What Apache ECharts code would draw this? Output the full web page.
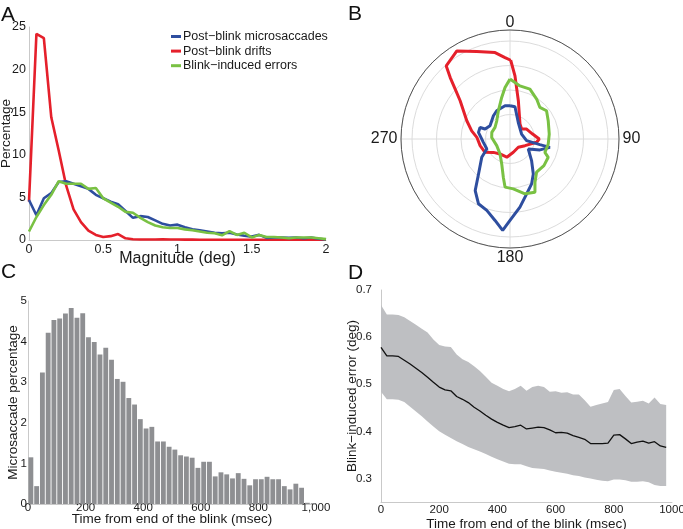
<!DOCTYPE html>
<html><head><meta charset="utf-8">
<script src="https://cdn.jsdelivr.net/npm/echarts@6/dist/echarts.min.js"></script>
<style>html,body{margin:0;padding:0;background:#fff}#c{width:683px;height:529px}</style>
</head><body><div id="c"></div>
<script>
// ---- Panel A: magnitude distributions ----
const magnitude = [0,0.05,0.1,0.15,0.2,0.25,0.3,0.35,0.4,0.45,0.5,0.55,0.6,0.65,0.7,0.75,0.8,0.85,0.9,0.95,1,1.05,1.1,1.15,1.2,1.25,1.3,1.35,1.4,1.45,1.5,1.55,1.6,1.65,1.7,1.75,1.8,1.85,1.9,1.95,2];
const microsaccades = [4.7,2.9,4.9,5.5,6.8,6.9,6.6,6.3,6.0,5.3,4.9,4.5,4.2,3.4,2.6,2.8,2.7,2.3,1.9,1.7,1.8,1.5,1.25,1.15,1.0,0.85,0.8,0.85,0.65,0.5,0.4,0.6,0.25,0.3,0.3,0.25,0.3,0.2,0.3,0.15,0.05];
const drifts = [4.5,24.2,23.7,14.4,10.5,6.4,3.6,2.1,1.1,0.6,0.35,0.45,0.7,0.2,0.08,0.06,0.05,0.05,0.08,0.05,0.05,0.04,0.04,0.03,0.03,0.03,0.03,0.03,0.03,0.03,0.03,0.03,0.03,0.03,0.03,0.03,0.03,0.03,0.03,0.03,0.03];
const blinkErrors = [1.0,2.7,4.1,5.3,6.9,6.6,6.6,6.6,6.0,6.1,4.9,4.4,3.9,3.3,3.2,2.6,2.1,1.7,1.5,1.4,1.4,1.25,1.15,1.0,0.85,0.8,0.55,1.05,0.6,0.85,0.3,0.6,0.35,0.35,0.3,0.2,0.3,0.3,0.3,0.2,0.1];
const seriesNamesA = ['Post\u2212blink microsaccades','Post\u2212blink drifts','Blink\u2212induced errors'];

// ---- Panel B: polar direction distributions (angle deg, radius %) ----
const redAngles = [0.5,4.5,12.3,33.7,49.4,59,77.6,90,97,114,135,166,190,213.7,231,242,257.5,272.9,282,292.9,307.5,312.3,315.8,318.9,328.9,339.2,350.2,356.5];
const redRadii  = [6.43,5.17,3.20,1.47,1.25,1.58,1.89,2.39,2.19,1.34,0.96,1.12,1.51,1.47,1.74,2.31,2.50,2.71,3.20,3.83,5.13,6.05,7.00,7.92,8.40,7.64,7.16,6.66];
const blueAngles = [0,8.8,26.6,66.8,95.7,100.7,101.8,110,118.6,135,146.3,154.3,163.1,171.7,180,184.6,190.4,198,206,214,222,237,246.8,262.9,281.9,291,291.8,303.7,324.5,334.8,351.5];
const blueRadii  = [2.71,2.66,1.51,1.03,1.36,2.48,3.33,2.60,1.70,2.49,3.43,4.07,4.68,5.62,6.65,7.48,6.76,6.13,5.88,5.08,3.84,2.75,2.06,2.19,2.63,2.62,2.19,1.96,2.33,2.55,2.74];
const greenAngles = [0,10.6,21.8,33.7,43.5,52.3,64.4,82.8,97.4,110.9,115.6,128.1,141.3,150,154.9,164.7,176.2,185.9,189.9,198.4,213.7,243.4,274.8,290,307.9,324,337.6,348.7,354.5];
const greenRadii  = [4.89,4.41,4.38,3.92,3.55,3.77,3.46,3.23,3.15,3.05,3.46,3.52,3.47,4.08,4.80,4.64,4.08,3.95,3.17,2.14,1.47,1.21,1.50,1.58,1.55,1.84,2.49,3.46,4.23];
const angleTicks = ['0','90','180','270'];

// ---- Panel C: microsaccade latency histogram (20 ms bins) ----
const binStartC = [0,20,40,60,80,100,120,140,160,180,200,220,240,260,280,300,320,340,360,380,400,420,440,460,480,500,520,540,560,580,600,620,640,660,680,700,720,740,760,780,800,820,840,860,880,900,920,940,960,980];
const percentC = [1.15,0.44,3.24,4.22,4.53,4.57,4.69,4.83,4.59,4.70,4.11,3.99,3.68,3.85,3.55,3.08,3.01,2.61,2.45,2.09,1.86,1.90,1.54,1.54,1.41,1.34,1.20,1.17,1.14,0.89,1.04,1.04,0.68,0.78,0.73,0.63,0.76,0.62,0.46,0.61,0.61,0.67,0.61,0.61,0.44,0.36,0.50,0.40,0.03,0.02];
const ticksC = ['0','200','400','600','800','1,000'];

// ---- Panel D: blink-induced error over time ----
const timeD = [0,20,40,60,80,100,120,140,160,180,200,220,240,260,280,300,320,340,360,380,400,420,440,460,480,500,520,540,560,580,600,620,640,660,680,700,720,740,760,780,800,820,840,860,880,900,920,940,960,980,1000];
const meanD = [0.578,0.560,0.560,0.559,0.551,0.543,0.534,0.525,0.515,0.504,0.494,0.488,0.486,0.474,0.468,0.461,0.451,0.443,0.434,0.426,0.419,0.413,0.408,0.410,0.413,0.405,0.407,0.409,0.408,0.403,0.397,0.398,0.396,0.391,0.387,0.383,0.374,0.374,0.374,0.375,0.392,0.393,0.384,0.374,0.377,0.379,0.375,0.378,0.369,0.366];
const upperD = [0.668,0.648,0.648,0.647,0.642,0.634,0.626,0.618,0.610,0.595,0.583,0.580,0.579,0.563,0.553,0.547,0.538,0.528,0.516,0.503,0.497,0.490,0.485,0.490,0.497,0.486,0.494,0.497,0.494,0.484,0.485,0.482,0.483,0.478,0.478,0.466,0.452,0.456,0.459,0.462,0.488,0.490,0.475,0.461,0.463,0.465,0.459,0.472,0.458,0.456];
const lowerD = [0.484,0.468,0.468,0.467,0.462,0.452,0.442,0.432,0.421,0.410,0.400,0.393,0.386,0.379,0.373,0.367,0.362,0.357,0.352,0.346,0.341,0.336,0.331,0.330,0.330,0.326,0.322,0.321,0.320,0.317,0.314,0.312,0.310,0.307,0.305,0.302,0.300,0.297,0.295,0.294,0.298,0.298,0.296,0.293,0.293,0.294,0.292,0.286,0.284,0.284];

const FONT = 'Liberation Sans, Arial, Helvetica, sans-serif';
const TXT = '#1a1a1a';
const AXC = '#c9c9c9';
const BLUE = '#2e4e9f', RED = '#e5202b', GREEN = '#79c143';

const chart = echarts.init(document.getElementById('c'), null, {renderer: 'canvas'});

function closeLoop(angles, radii) {
  const d = angles.map((a, i) => [radii[i], a]);
  d.push(d[0]);
  return d;
}
const bandDiff = upperD.map((u, i) => +(u - lowerD[i]).toFixed(4));

function axisBase(fs) {
  return {
    axisLine: {show: true, lineStyle: {color: AXC, width: 1}},
    axisTick: {show: false},
    splitLine: {show: false},
    nameMoveOverlap: false,
    nameTextStyle: {color: TXT, fontSize: fs || 13.5, fontFamily: FONT}
  };
}

const option = {
  animation: false,
  backgroundColor: '#fff',
  textStyle: {fontFamily: FONT},
  grid: [
    {left: 29, top: 27, width: 297, height: 213, outerBoundsMode: 'none'},
    {left: 28, top: 301, width: 288, height: 203, outerBoundsMode: 'none'},
    {left: 381, top: 290, width: 291, height: 212, outerBoundsMode: 'none'}
  ],
  polar: {center: [510, 139], radius: 109},
  angleAxis: {
    type: 'value', min: 0, max: 360, interval: 90, startAngle: 90, clockwise: true,
    axisLine: {show: true, lineStyle: {color: '#555', width: 1}},
    axisTick: {show: false},
    splitLine: {show: true, lineStyle: {color: '#dcdcdc', width: 1}},
    axisLabel: {margin: 3.5, fontSize: 16, color: TXT, fontFamily: FONT,
      rich: {t: {fontSize: 16, lineHeight: 7, fontFamily: FONT, color: TXT},
             b: {fontSize: 16, lineHeight: 12, fontFamily: FONT, color: TXT},
             h: {fontSize: 16, fontFamily: FONT, color: TXT}},
      formatter: v => {
        if (v >= 360) return '';
        const s = angleTicks[v / 90];
        return v === 0 ? '{t|' + s + '}' : (v === 180 ? '{b|' + s + '}' : '{h|' + s + '}');
      }}
  },
  radiusAxis: {
    type: 'value', min: 0, max: 8.9, interval: 2,
    axisLine: {show: false}, axisTick: {show: false}, axisLabel: {show: false},
    splitLine: {show: true, lineStyle: {color: '#dcdcdc', width: 1}}
  },
  xAxis: [
    Object.assign(axisBase(16), {gridIndex: 0, type: 'value', min: 0, max: 2, interval: 0.5,
      name: 'Magnitude (deg)', nameLocation: 'middle', nameGap: 11,
      axisLabel: {margin: 3, fontSize: 12.5, color: TXT, fontFamily: FONT}}),
    {gridIndex: 1, type: 'category', data: binStartC, boundaryGap: true, show: false},
    Object.assign(axisBase(), {gridIndex: 1, type: 'value', min: 0, max: 1000, interval: 200, position: 'bottom',
      name: 'Time from end of the blink (msec)', nameLocation: 'middle', nameGap: 8,
      axisLabel: {margin: -2, fontSize: 11.5, color: TXT, fontFamily: FONT, formatter: v => ticksC[v / 200]}}),
    Object.assign(axisBase(), {gridIndex: 2, type: 'category', data: timeD, boundaryGap: false,
      name: 'Time from end of the blink (msec)', nameLocation: 'middle', nameGap: 15,
      axisLabel: {margin: 2, fontSize: 11.5, color: TXT, fontFamily: FONT, interval: 9}})
  ],
  yAxis: [
    Object.assign(axisBase(), {gridIndex: 0, type: 'value', min: 0, max: 25, interval: 5,
      name: 'Percentage', nameLocation: 'middle', nameGap: 15.5,
      axisLabel: {margin: 3, fontSize: 12.5, color: TXT, fontFamily: FONT}}),
    Object.assign(axisBase(), {gridIndex: 1, type: 'value', min: 0, max: 5, interval: 1,
      name: 'Microsaccade percentage', nameLocation: 'middle', nameGap: 7.5,
      axisLabel: {margin: 1, fontSize: 11.5, color: TXT, fontFamily: FONT}}),
    Object.assign(axisBase(), {gridIndex: 2, type: 'value', min: 0.25, max: 0.7, interval: 0.05,
      name: 'Blink\u2212induced error (deg)', nameLocation: 'middle', nameGap: 22,
      axisLabel: {margin: 9, fontSize: 11.5, color: TXT, fontFamily: FONT,
        formatter: v => (Math.abs(v * 10 - Math.round(v * 10)) < 1e-6 ? v.toFixed(1) : '')}})
  ],
  legend: {
    orient: 'vertical', left: 171, top: 29.5, padding: 0, itemWidth: 10, itemHeight: 3, itemGap: 0.6,
    icon: 'rect', data: seriesNamesA,
    textStyle: {fontSize: 12.5, color: TXT, fontFamily: FONT, lineHeight: 14, padding: [0, 0, 0, -3]}
  },
  graphic: [
    {type: 'text', left: 1, top: 5, style: {text: 'A', fontSize: 21, fill: '#111', fontFamily: FONT}},
    {type: 'text', left: 348, top: 4, style: {text: 'B', fontSize: 21, fill: '#111', fontFamily: FONT}},
    {type: 'text', left: 1, top: 262, style: {text: 'C', fontSize: 21, fill: '#111', fontFamily: FONT}},
    {type: 'text', left: 348, top: 263, style: {text: 'D', fontSize: 21, fill: '#111', fontFamily: FONT}}
  ],
  series: [
    {name: seriesNamesA[0], type: 'line', xAxisIndex: 0, yAxisIndex: 0, showSymbol: false, z: 3,
      color: BLUE, lineStyle: {width: 2.6, color: BLUE}, data: magnitude.map((m, i) => [m, microsaccades[i]])},
    {name: seriesNamesA[1], type: 'line', xAxisIndex: 0, yAxisIndex: 0, showSymbol: false, z: 2,
      color: RED, lineStyle: {width: 2.6, color: RED}, data: magnitude.map((m, i) => [m, drifts[i]])},
    {name: seriesNamesA[2], type: 'line', xAxisIndex: 0, yAxisIndex: 0, showSymbol: false, z: 4,
      color: GREEN, lineStyle: {width: 2.6, color: GREEN}, data: magnitude.map((m, i) => [m, blinkErrors[i]])},

    {type: 'line', coordinateSystem: 'polar', showSymbol: false, lineStyle: {width: 3, color: RED}, z: 3,
      data: closeLoop(redAngles, redRadii)},
    {type: 'line', coordinateSystem: 'polar', showSymbol: false, lineStyle: {width: 3, color: BLUE}, z: 4,
      data: closeLoop(blueAngles, blueRadii)},
    {type: 'line', coordinateSystem: 'polar', showSymbol: false, lineStyle: {width: 3, color: GREEN}, z: 5,
      data: closeLoop(greenAngles, greenRadii)},

    {type: 'bar', xAxisIndex: 1, yAxisIndex: 1, data: percentC, barCategoryGap: '16%',
      itemStyle: {color: '#8e8f92'}},

    {type: 'line', xAxisIndex: 3, yAxisIndex: 2, stack: 'band', showSymbol: false,
      lineStyle: {opacity: 0}, data: lowerD},
    {type: 'line', xAxisIndex: 3, yAxisIndex: 2, stack: 'band', showSymbol: false,
      lineStyle: {opacity: 0}, areaStyle: {color: '#bebfc2', opacity: 1}, data: bandDiff},
    {type: 'line', xAxisIndex: 3, yAxisIndex: 2, showSymbol: false, z: 5,
      lineStyle: {width: 1.3, color: '#111'}, data: meanD}
  ]
};
chart.setOption(option);
</script>
</body></html>
